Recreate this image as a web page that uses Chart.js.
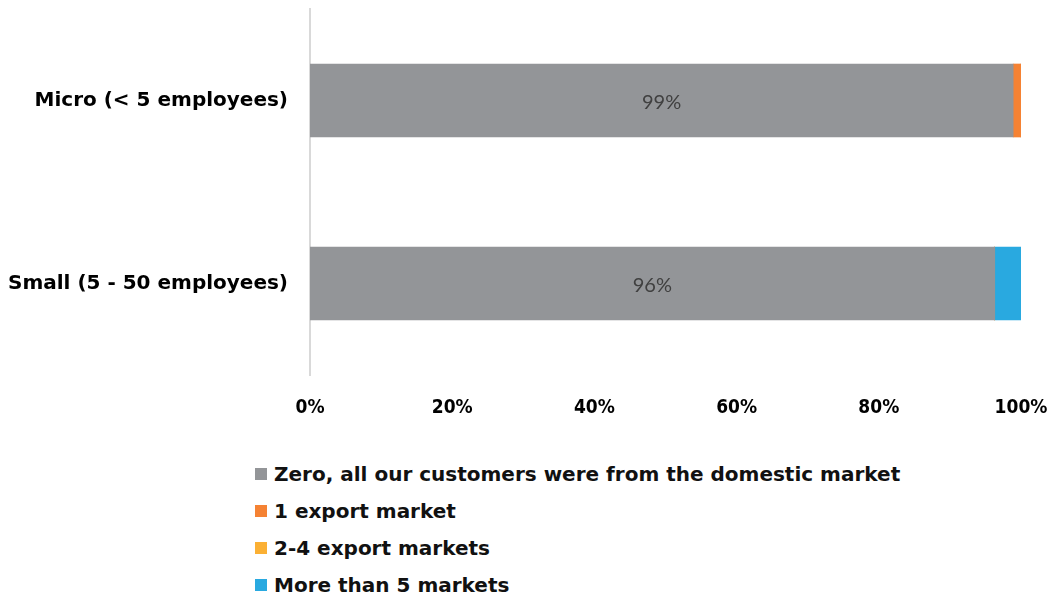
<!DOCTYPE html>
<html>
<head>
<meta charset="utf-8">
<script src="https://cdn.jsdelivr.net/npm/chart.js@4.4.1/dist/chart.umd.min.js"></script>
<style>
    body { margin: 0; background: #fff; }
    #wrap { position: relative; width: 1062px; height: 595px; }
    #chart-box { position: absolute; left: 0; top: 0; width: 1062px; height: 420px; }
    #legend { position: absolute; left: 255px; top: 455px; font-family: 'DejaVu Sans', sans-serif; font-weight: bold; font-size: 20px; color: #111; }
    #legend .item { display: flex; align-items: center; height: 37px; }
    #legend .box { width: 12px; height: 12px; margin-right: 7px; }
</style>
</head>
<body>
<div id="wrap">
    <div id="chart-box"><canvas id="export-chart"></canvas></div>
    <div id="legend"></div>
</div>
<script>
const categories = ['Micro (< 5 employees)', 'Small (5 - 50 employees)'];
const seriesNames = [
    'Zero, all our customers were from the domestic market',
    '1 export market',
    '2-4 export markets',
    'More than 5 markets'
];
const zeroMarkets = [98.9, 96.3];
const oneMarket = [1.1, 0];
const twoToFourMarkets = [0, 0];
const fivePlusMarkets = [0, 3.7];
const xTicks = [0, 20, 40, 60, 80, 100];

const colours = ['#939598', '#f58233', '#fbb034', '#29a9e0'];
const seriesValues = [zeroMarkets, oneMarket, twoToFourMarkets, fivePlusMarkets];

// percentage label on the grey segment only
const barLabels = {
    id: 'barLabels',
    afterDatasetsDraw(chart) {
        const ctx = chart.ctx;
        const meta = chart.getDatasetMeta(0);
        ctx.save();
        ctx.font = '20px Lato, sans-serif';
        ctx.fillStyle = '#404040';
        ctx.textAlign = 'center';
        ctx.textBaseline = 'middle';
        meta.data.forEach((bar, i) => {
            const x = (bar.x + bar.base) / 2;
            ctx.fillText(Math.round(zeroMarkets[i]) + '%', x, bar.y + 2);
        });
        ctx.restore();
    }
};

const config = {
    type: 'bar',
    data: {
        labels: categories,
        datasets: seriesNames.map((name, i) => ({
            label: name,
            data: seriesValues[i],
            backgroundColor: colours[i],
            borderWidth: 0,
            barThickness: 73
        }))
    },
    options: {
        indexAxis: 'y',
        responsive: true,
        maintainAspectRatio: false,
        animation: false,
        layout: {
            padding: { top: 9, right: 41, bottom: 0, left: 0 }
        },
        plugins: {
            legend: { display: false },
            tooltip: { enabled: false }
        },
        scales: {
            x: {
                stacked: true,
                min: 0,
                max: 100,
                afterBuildTicks: scale => {
                    scale.ticks = xTicks.map(v => ({ value: v }));
                },
                afterFit: scale => {
                    scale.height = 45;
                    scale.paddingLeft = 0;
                    scale.paddingRight = 0;
                },
                grid: { display: false, drawTicks: false },
                border: { display: false },
                ticks: {
                    padding: 22,
                    color: '#000',
                    font: { family: 'DejaVu Sans Condensed', weight: 'bold', size: 19 },
                    callback: v => v + '%'
                }
            },
            y: {
                stacked: true,
                afterFit: scale => {
                    scale.width = 310;
                    scale.paddingTop = 0;
                    scale.paddingBottom = 0;
                },
                grid: { display: false, drawTicks: false },
                border: { display: true, color: '#d9d9d9', width: 2 },
                ticks: {
                    padding: 22,
                    color: '#000',
                    font: { family: 'DejaVu Sans', weight: 'bold', size: 20 }
                }
            }
        }
    },
    plugins: [barLabels]
};

const ctx = document.getElementById('export-chart').getContext('2d');
const chart = new Chart(ctx, config);

// legend as a vertical list, built from the chart's own datasets
const legendEl = document.getElementById('legend');
chart.data.datasets.forEach(ds => {
    const item = document.createElement('div');
    item.className = 'item';
    const box = document.createElement('span');
    box.className = 'box';
    box.style.background = ds.backgroundColor;
    const text = document.createElement('span');
    text.textContent = ds.label;
    item.appendChild(box);
    item.appendChild(text);
    legendEl.appendChild(item);
});
</script>
</body>
</html>
